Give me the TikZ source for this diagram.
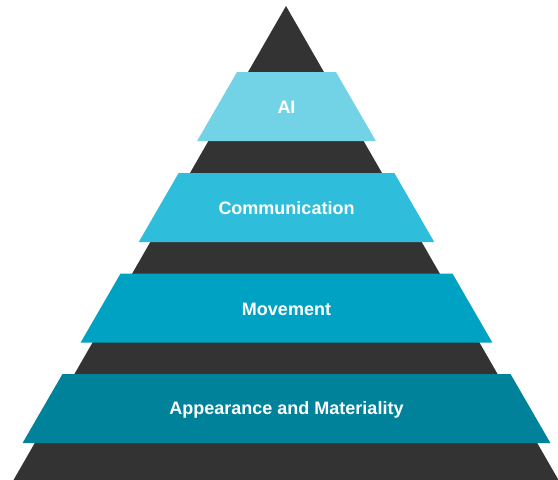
\documentclass[tikz,border=0pt]{standalone}
\usepackage{fontspec}
\setmainfont{Liberation Sans}
\definecolor{darktri}{RGB}{51,51,51}
\definecolor{bandA}{RGB}{114,211,230}
\definecolor{bandB}{RGB}{46,189,219}
\definecolor{bandC}{RGB}{0,162,196}
\definecolor{bandD}{RGB}{0,130,155}
\begin{document}
\begin{tikzpicture}[x=1pt,y=-1pt,
  band/.style={draw=none},
  lbl/.style={text=white,font=\bfseries\fontsize{18}{21}\selectfont,inner sep=0pt}]
\useasboundingbox (0,0) rectangle (558,480);
\fill[darktri] (286,6) -- (558.5,480) -- (13.5,480) -- cycle;
% trapezoids: half-width = 0.578*(y+13.6)
\def\trap#1#2#3#4{%
  \pgfmathsetmacro\yb{#1+69}%
  \pgfmathsetmacro\wt{0.578*(#1+13.6)}%
  \pgfmathsetmacro\wb{0.578*(\yb+13.6)}%
  \fill[#2] (286.5-\wt,#1) -- (286.5+\wt,#1) -- (286.5+\wb,\yb) -- (286.5-\wb,\yb) -- cycle;
  \node[lbl] (#3) at (286.5,#1+35.5) {#4};}
\trap{72}{bandA}{ai}{AI}
\trap{173}{bandB}{comm}{Communication}
\trap{273.5}{bandC}{move}{Movement}
\trap{374}{bandD}{app}{Appearance and Materiality}
\end{tikzpicture}
\end{document}
